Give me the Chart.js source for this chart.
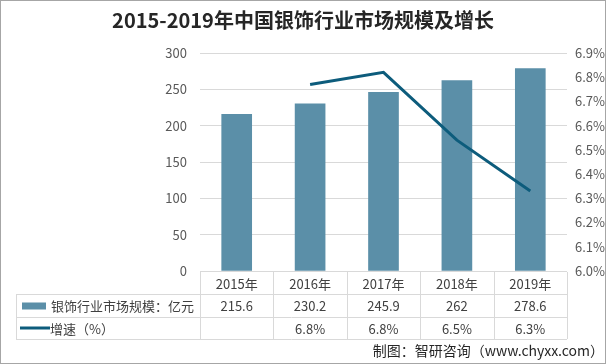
<!DOCTYPE html>
<html>
<head>
<meta charset="utf-8">
<script src="https://cdn.jsdelivr.net/npm/chart.js@4"></script>
<style>
  html, body { margin: 0; padding: 0; background: #fff; }
  #wrap { width: 606px; height: 364px; }
</style>
</head>
<body>
<div id="wrap"><canvas id="grafico1" width="606" height="364"></canvas></div>
<script>
const years = ['2015年', '2016年', '2017年', '2018年', '2019年']
const marketSize = [215.6, 230.2, 245.9, 262, 278.6]
const growth = [null, 6.77, 6.82, 6.54, 6.33]
const leftTicks = [0, 50, 100, 150, 200, 250, 300]
const rightTicks = [6.0, 6.1, 6.2, 6.3, 6.4, 6.5, 6.6, 6.7, 6.8, 6.9]
const seriesNames = ['银饰行业市场规模：亿元', '增速（%）']

const barColor = '#5B8FA8'
const lineColor = '#0D5C7C'
const gridColor = '#D9D9D9'
const font = '"Noto Sans CJK SC", "Noto Sans", sans-serif'

// table under the plot + legend keys + source + frame
const tablePlugin = {
    id: 'tableBelow',
    afterDraw(chart) {
        const c = chart.ctx
        const area = chart.chartArea
        const x = chart.scales.x
        const n = years.length
        const colW = (area.right - area.left) / n
        const top = area.bottom + 1
        const r1 = top + 22, r2 = r1 + 23, r3 = r2 + 22
        const leftEdge = 16
        c.save()
        c.strokeStyle = gridColor
        c.lineWidth = 1
        c.beginPath()
        for (let i = 0; i <= n; i++) {
            const lx = Math.round(area.left + i * colW) + 0.5
            c.moveTo(lx, top); c.lineTo(lx, r3)
        }
        c.moveTo(area.left, r1 + 0.5); c.lineTo(area.right, r1 + 0.5)
        c.moveTo(leftEdge, r1 + 0.5); c.lineTo(area.left, r1 + 0.5)
        c.moveTo(leftEdge, r2 + 0.5); c.lineTo(area.right, r2 + 0.5)
        c.moveTo(leftEdge, r3 + 0.5); c.lineTo(area.right, r3 + 0.5)
        c.moveTo(leftEdge + 0.5, r1); c.lineTo(leftEdge + 0.5, r3)
        c.stroke()

        c.fillStyle = '#404040'
        c.font = '13px ' + font
        c.textAlign = 'center'
        c.textBaseline = 'middle'
        years.forEach((y, i) => {
            const cx = x.getPixelForValue(i)
            c.fillText(y, cx, (top + r1) / 2 + 1)
            c.fillText(String(marketSize[i]), cx, (r1 + r2) / 2 + 1)
            if (growth[i] != null) c.fillText(growth[i].toFixed(1) + '%', cx, (r2 + r3) / 2 + 1)
        })

        // legend keys
        c.fillStyle = barColor
        c.fillRect(22, (r1 + r2) / 2 - 3, 24, 7)
        c.strokeStyle = lineColor
        c.lineWidth = 3
        c.beginPath()
        c.moveTo(20, (r2 + r3) / 2); c.lineTo(50, (r2 + r3) / 2)
        c.stroke()
        c.fillStyle = '#404040'
        c.font = '13px ' + font
        c.textAlign = 'left'
        c.fillText(seriesNames[0], 51, (r1 + r2) / 2 + 1)
        c.fillText(seriesNames[1], 50, (r2 + r3) / 2 + 1)

        // source
        c.fillStyle = '#262626'
        c.font = '14px ' + font
        c.textAlign = 'right'
        c.fillText('制图：智研咨询（www.chyxx.com）', 604, 351)

        // frame
        c.strokeStyle = '#A6A6A6'
        c.lineWidth = 1
        c.strokeRect(0.5, 0.5, 605, 363)
        c.restore()
    }
}

let ctx = document.getElementById('grafico1').getContext('2d')

let grafico = new Chart(ctx, {
    data: {
        labels: years,
        datasets: [{
            type: 'line',
            label: seriesNames[1],
            data: growth,
            yAxisID: 'y2',
            borderColor: lineColor,
            borderWidth: 3,
            pointRadius: 0,
            tension: 0,
            order: 0
        }, {
            type: 'bar',
            label: seriesNames[0],
            data: marketSize,
            yAxisID: 'y',
            backgroundColor: barColor,
            barThickness: 30,
            order: 1
        }]
    },
    plugins: [tablePlugin],
    options: {
        responsive: false,
        animation: false,
        layout: {
            padding: { left: 0, right: 0, top: 0, bottom: 93 }
        },
        plugins: {
            legend: { display: false },
            tooltip: { enabled: false },
            title: {
                display: true,
                text: '2015-2019年中国银饰行业市场规模及增长',
                color: '#262626',
                font: { family: font, size: 20, weight: 'bold' },
                padding: { top: 8, bottom: 21 }
            }
        },
        scales: {
            x: {
                display: false,
                offset: true
            },
            y: {
                position: 'left',
                min: 0,
                max: 300,
                afterBuildTicks: s => { s.ticks = leftTicks.map(v => ({ value: v })) },
                afterFit: s => { s.width = 200 },
                border: { display: false },
                grid: { color: gridColor, drawTicks: false },
                ticks: {
                    color: '#595959',
                    font: { family: font, size: 13 },
                    padding: 13
                }
            },
            y2: {
                position: 'right',
                min: 6.0,
                max: 6.9,
                afterBuildTicks: s => { s.ticks = rightTicks.map(v => ({ value: v })) },
                afterFit: s => { s.width = 39 },
                border: { display: false },
                grid: { display: false, drawTicks: false },
                ticks: {
                    color: '#595959',
                    font: { family: font, size: 13 },
                    padding: 8,
                    callback: v => v.toFixed(1) + '%'
                }
            }
        }
    }
})
</script>
</body>
</html>
